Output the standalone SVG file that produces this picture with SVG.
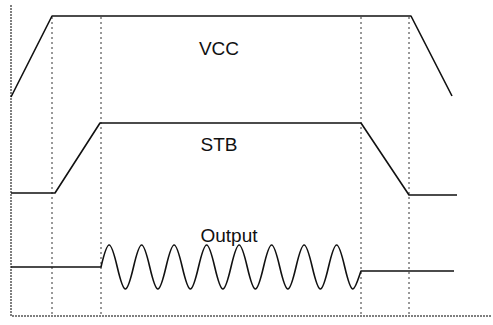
<svg xmlns="http://www.w3.org/2000/svg" width="493" height="325" viewBox="0 0 493 325">
<style>
.axis{fill:none;stroke:#555;stroke-width:1.5;stroke-dasharray:2 1}
.guide{fill:none;stroke:#333;stroke-width:1;stroke-dasharray:2 3}
.sig{fill:none;stroke:#111;stroke-width:1.6;stroke-linejoin:round}
.lbl{font-family:"Liberation Sans",Arial,sans-serif;font-size:19px;fill:#111;text-anchor:middle}
</style>
<rect width="493" height="325" fill="#fff"/>
<g id="axes">
<path class="axis" d="M11,5 V316 H492"/>
</g>
<g id="guides">
<path class="guide" d="M52,17 V316 M101,17 V316 M361,17 V316 M409,17 V316"/>
</g>
<g id="vcc">
<path class="sig" d="M11,97 L52,16 L411,16 L452,96"/>
<text class="lbl" x="219" y="55">VCC</text>
</g>
<g id="stb">
<path class="sig" d="M11,193 L55,193 L100,123 L361,123 L409,195 L457,195"/>
<text class="lbl" x="219" y="151">STB</text>
</g>
<g id="output">
<path class="sig" d="M11,267 L101,267 c 2.65,-11.27 5.6,-22 8.125,-22
s 5.475,10.73 8.125,22 s 5.6,22 8.125,22 s 5.475,-10.73 8.125,-22 s 5.6,-22 8.125,-22
s 5.475,10.73 8.125,22 s 5.6,22 8.125,22 s 5.475,-10.73 8.125,-22 s 5.6,-22 8.125,-22
s 5.475,10.73 8.125,22 s 5.6,22 8.125,22 s 5.475,-10.73 8.125,-22 s 5.6,-22 8.125,-22
s 5.475,10.73 8.125,22 s 5.6,22 8.125,22 s 5.475,-10.73 8.125,-22 s 5.6,-22 8.125,-22
s 5.475,10.73 8.125,22 s 5.6,22 8.125,22 s 5.475,-10.73 8.125,-22 s 5.6,-22 8.125,-22
s 5.475,10.73 8.125,22 s 5.6,22 8.125,22 s 5.475,-10.73 8.125,-22 s 5.6,-22 8.125,-22
s 5.475,10.73 8.125,22 s 5.6,22 8.125,22 s 5.475,-10.73 8.125,-22 s 5.6,-22 8.125,-22
s 5.475,10.73 8.125,22 s 5.6,22 8.125,22 s 5.475,-10.73 8.125,-18 H454"/>
<text class="lbl" x="229" y="242">Output</text>
</g>
</svg>
